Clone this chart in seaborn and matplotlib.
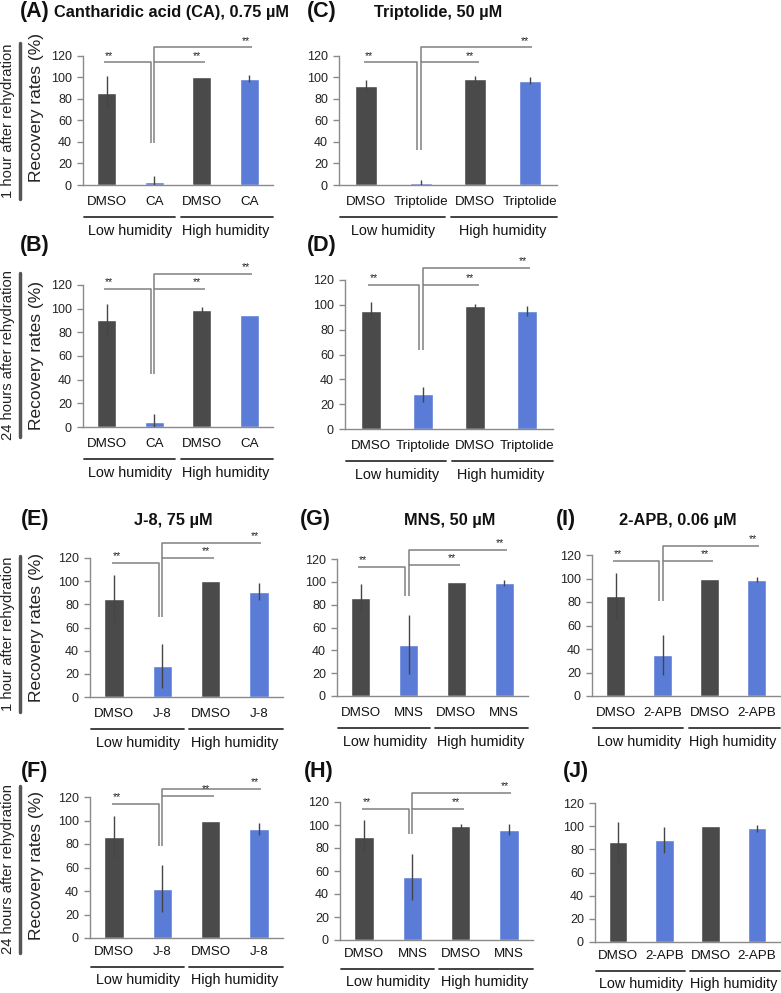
import pandas as pd
import seaborn as sns
import matplotlib.pyplot as plt
from matplotlib.lines import Line2D
from matplotlib.transforms import ScaledTranslation

sns.set_theme(style="white")
plt.rcParams['font.family'] = ['Liberation Sans', 'DejaVu Sans']

W, H = 781, 993
DARK = "#4a4a4a"
BLUE = "#5b7cd6"
BRACKET = "#808080"
AXIS = "#8a8a8a"

groups = ["Low humidity", "High humidity"]

# recovery rates (%) and error, order: DMSO/drug low, DMSO/drug high
ca_1h = [86, 3, 100, 99]
ca_1h_err = [15, 5, 0, 3]
ca_24h = [90, 4, 99, 95]
ca_24h_err = [14, 7, 2, 0]
trip_1h = [92, 2, 99, 97]
trip_1h_err = [6, 3, 2, 3]
trip_24h = [95, 28, 99, 95]
trip_24h_err = [7, 6, 2, 4]
j8_1h = [85, 27, 100, 91]
j8_1h_err = [20, 19, 0, 7]
j8_24h = [86, 42, 100, 93]
j8_24h_err = [18, 20, 0, 5]
mns_1h = [86, 45, 100, 99]
mns_1h_err = [12, 26, 0, 3]
mns_24h = [90, 55, 99, 96]
mns_24h_err = [14, 20, 2, 5]
apb_1h = [85, 35, 100, 99]
apb_1h_err = [20, 17, 0, 2]
apb_24h = [86, 88, 100, 98]
apb_24h_err = [18, 11, 0, 3]

fig = plt.figure(figsize=(W / 100, H / 100), dpi=100)


def fx(px):
    return px / W


def fy(py):
    return 1 - py / H


def off(ax, dy_px):
    return ax.get_xaxis_transform() + ScaledTranslation(0, -dy_px / 100, fig.dpi_scale_trans)


def panel(box, drug, vals, errs, brackets=None, gaps=(8, 32, 46)):
    x0, x1, ytop, ybot = box
    ax = fig.add_axes([fx(x0), fy(ybot), fx(x1 - x0), (ybot - ytop) / H])
    conds = ["low DMSO", "low " + drug, "high DMSO", "high " + drug]
    df = pd.DataFrame({"cond": conds, "rate": vals})
    sns.barplot(data=df, x="cond", y="rate", hue="cond", order=conds,
                palette=[DARK, BLUE, DARK, BLUE], width=0.4, saturation=1,
                legend=False, errorbar=None, ax=ax)
    ax.errorbar(range(4), vals, yerr=errs, fmt="none", ecolor="#454545",
                elinewidth=1, capsize=0, zorder=3)
    ax.set_xlim(-0.5, 3.5)
    ax.set_ylim(0, 120)
    ax.set_yticks(range(0, 121, 20))
    ax.set_xticks(range(4), labels=["DMSO", drug, "DMSO", drug])
    ax.set_xticks([-0.5, 0.5, 1.5, 2.5, 3.5], minor=True)
    ax.tick_params(axis="x", which="major", length=0, pad=gaps[0], labelsize=9.6,
                   labelcolor="#111111")
    ax.tick_params(axis="x", which="minor", length=4, color=AXIS, width=1,
                   direction="out")
    ax.tick_params(axis="y", length=4, color=AXIS, width=1, pad=4,
                   labelsize=9, labelcolor="#222222", left=True)
    ax.set_xlabel("")
    ax.set_ylabel("")
    for s in ["top", "right"]:
        ax.spines[s].set_visible(False)
    for s in ["left", "bottom"]:
        ax.spines[s].set_color(AXIS)
        ax.spines[s].set_linewidth(1)
    # humidity group underlines and labels
    tr = off(ax, gaps[1])
    for a, b in [(-0.48, 1.44), (1.56, 3.5)]:
        ax.add_line(Line2D([a, b], [0, 0], transform=tr, color="#333333",
                           lw=1.3, clip_on=False))
    for xc, g in zip([0.5, 2.5], groups):
        ax.text(xc, 0, g, transform=off(ax, gaps[2]), ha="center", va="center",
                fontsize=10.4, color="#111111")
    if brackets:
        y1, y2, y3, low = brackets
        kw = dict(color=BRACKET, lw=1.1, clip_on=False, solid_capstyle="butt")
        ax.plot([-0.05, 0.93, 0.93], [y1, y1, low], **kw)
        ax.plot([1.0, 1.0, 2.07], [low, y2, y2], **kw)
        ax.plot([1.0, 1.0, 3.05], [y2, y3, y3], **kw)
        st = dict(ha="center", va="bottom", fontsize=7.5, color="#222222")
        ax.text(0.05, y1 + 1.5, "**", **st)
        ax.text(1.9, y2 + 1.5, "**", **st)
        ax.text(2.92, y3 + 1.5, "**", **st)
    return ax


low_row = (6, 29, 42)
panel((83, 273, 56, 185), "CA", ca_1h, ca_1h_err, (114, 114, 128, 39))
panel((339, 557, 56, 185), "Triptolide", trip_1h, trip_1h_err, (114, 114, 128, 33))
panel((83, 273, 285, 427), "CA", ca_24h, ca_24h_err, (117, 117, 129, 45))
panel((345, 553, 280, 429), "Triptolide", trip_24h, trip_24h_err, (116, 116, 130, 64))
panel((90, 283, 558, 697), "J-8", j8_1h, j8_1h_err, (116, 120, 133, 69))
panel((337, 528, 559, 696), "MNS", mns_1h, mns_1h_err, (113, 115, 128, 88))
panel((592, 780, 555, 696), "2-APB", apb_1h, apb_1h_err, (115, 115, 128, 81))
panel((90, 283, 797, 938), "J-8", j8_24h, j8_24h_err, (114, 121, 127, 78), low_row)
panel((340, 533, 802, 940), "MNS", mns_24h, mns_24h_err, (114, 114, 128, 92), low_row)
panel((595, 780, 803, 942), "2-APB", apb_24h, apb_24h_err, None, low_row)

# panel letters and titles
letters = [("(A)", 20, 12), ("(C)", 307, 12), ("(B)", 20, 245), ("(D)", 307, 245),
           ("(E)", 21, 520), ("(G)", 300, 520), ("(I)", 556, 520),
           ("(F)", 21, 771), ("(H)", 304, 771), ("(J)", 563, 772)]
for t, x, y in letters:
    fig.text(fx(x), fy(y), t, ha="left", va="center", fontsize=15.5,
             fontweight="bold", color="#111111")
titles = [("Cantharidic acid (CA), 0.75 µM", 172, 13),
          ("Triptolide, 50 µM", 438, 13),
          ("J-8, 75 µM", 173, 520),
          ("MNS, 50 µM", 450, 520),
          ("2-APB, 0.06 µM", 678, 520)]
for t, x, y in titles:
    fig.text(fx(x), fy(y), t, ha="center", va="center", fontsize=11.8,
             fontweight="bold", color="#111111")

# y-axis labels and time row labels
for yc in [108, 356, 627, 866]:
    fig.text(fx(37), fy(yc), "Recovery rates (%)", rotation=90, ha="center",
             va="center", fontsize=12.5, color="#222222")
rows = [("1 hour after rehydration", 43, 199),
        ("24 hours after rehydration", 273, 437),
        ("1 hour after rehydration", 556, 712),
        ("24 hours after rehydration", 786, 953)]
for t, ya, yb in rows:
    fig.add_artist(Line2D([fx(20), fx(20)], [fy(ya), fy(yb)], color="#555555",
                          lw=2.5, transform=fig.transFigure))
    fig.text(fx(8), fy((ya + yb) / 2), t, rotation=90, ha="center",
             va="center", fontsize=10.6, color="#222222")

fig.savefig("out.png", dpi=100)
